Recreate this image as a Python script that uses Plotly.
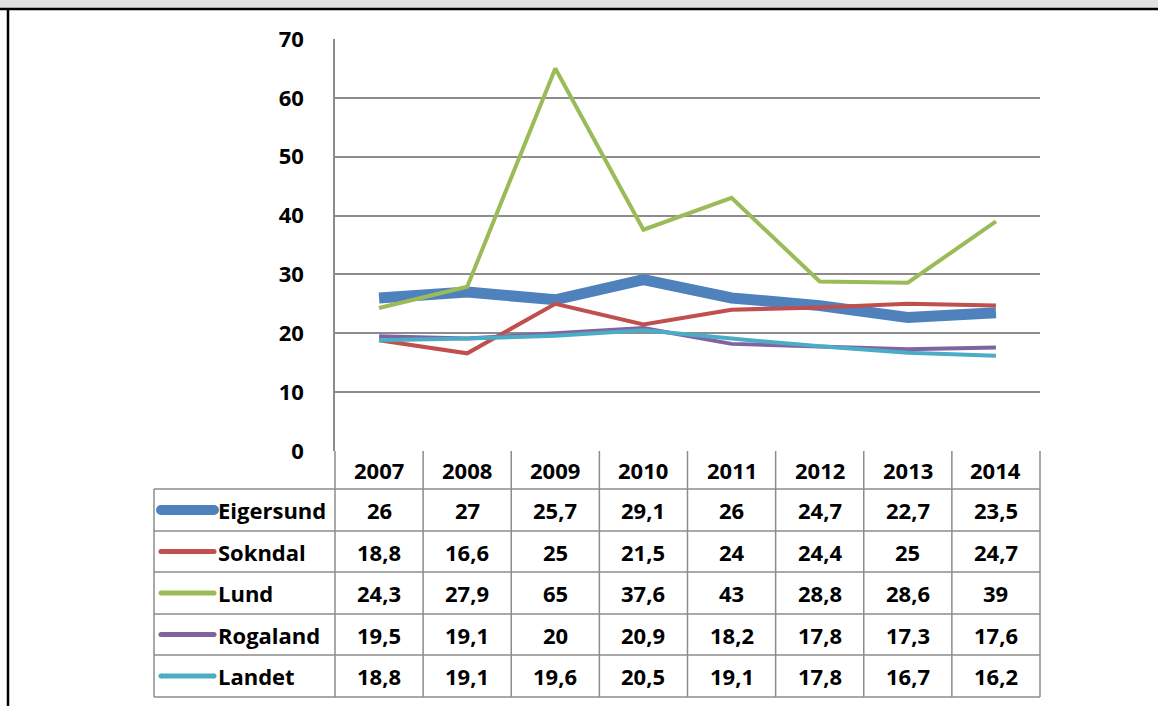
import plotly.graph_objects as go

years = ["2007", "2008", "2009", "2010", "2011", "2012", "2013", "2014"]
series_names = ["Eigersund", "Sokndal", "Lund", "Rogaland", "Landet"]
eigersund = [26, 27, 25.7, 29.1, 26, 24.7, 22.7, 23.5]
sokndal = [18.8, 16.6, 25, 21.5, 24, 24.4, 25, 24.7]
lund = [24.3, 27.9, 65, 37.6, 43, 28.8, 28.6, 39]
rogaland = [19.5, 19.1, 20, 20.9, 18.2, 17.8, 17.3, 17.6]
landet = [18.8, 19.1, 19.6, 20.5, 19.1, 17.8, 16.7, 16.2]
y_ticks = [0, 10, 20, 30, 40, 50, 60, 70]

series_values = [eigersund, sokndal, lund, rogaland, landet]
colors = ["#4F81BD", "#C0504D", "#9BBB59", "#8064A2", "#4BACC6"]
widths = [11, 4, 4, 4, 4]
key_widths = [10, 5, 5, 5, 5]

W, H = 1158, 706
FONT = "Open Sans"
GRID = "#8c8c8c"


def px(x):
    return x / W


def py(y):
    return 1 - y / H


def fmt(v):
    s = ("%g" % v)
    return s.replace(".", ",")


plot_left, plot_right = 335, 1040
plot_top, plot_bottom = 39, 451
header_bottom = 489
row_edges = [489, 531, 572, 614, 655, 697]
label_left = 154

fig = go.Figure()
idx = list(range(len(years)))
for name, vals, c, w in zip(series_names, series_values, colors, widths):
    fig.add_trace(go.Scatter(x=idx, y=vals, mode="lines", name=name,
                             line=dict(color=c, width=w), showlegend=False,
                             hoverinfo="skip"))

shapes = []
annotations = []
# top band
shapes.append(dict(type="rect", xref="paper", yref="paper", x0=0, x1=1, y0=py(0), y1=py(8),
                   fillcolor="#e0e0e0", line=dict(width=0), layer="below"))
shapes.append(dict(type="line", xref="paper", yref="paper", x0=0, x1=1, y0=py(9), y1=py(9),
                   line=dict(color="black", width=2.5)))
shapes.append(dict(type="line", xref="paper", yref="paper", x0=px(8), x1=px(8), y0=py(9), y1=0,
                   line=dict(color="black", width=2.5)))

# table grid
line_style = dict(color=GRID, width=1.5)
for i in range(len(years) + 1):
    xb = plot_left + (plot_right - plot_left) * i / len(years)
    shapes.append(dict(type="line", xref="paper", yref="paper", x0=px(xb), x1=px(xb),
                       y0=py(plot_bottom), y1=py(row_edges[-1]), line=line_style))
shapes.append(dict(type="line", xref="paper", yref="paper", x0=px(label_left), x1=px(label_left),
                   y0=py(row_edges[0]), y1=py(row_edges[-1]), line=line_style))
for ye in row_edges:
    shapes.append(dict(type="line", xref="paper", yref="paper", x0=px(label_left), x1=px(plot_right),
                       y0=py(ye), y1=py(ye), line=line_style))

txt_font = dict(family=FONT, size=22, color="black", weight="bold")
for i, yr in enumerate(years):
    annotations.append(dict(x=i, y=py((plot_bottom + header_bottom) / 2), xref="x", yref="paper",
                            text=yr, showarrow=False, font=txt_font, xanchor="center", yanchor="middle"))
for r, (name, vals, c, kw) in enumerate(zip(series_names, series_values, colors, key_widths)):
    yc = (row_edges[r] + row_edges[r + 1]) / 2
    for i, v in enumerate(vals):
        annotations.append(dict(x=i, y=py(yc), xref="x", yref="paper", text=fmt(v), showarrow=False,
                                font=txt_font, xanchor="center", yanchor="middle"))
    annotations.append(dict(x=px(216), y=py(yc), xref="paper", yref="paper", text=name, showarrow=False,
                            font=txt_font, xanchor="left", yanchor="middle"))
    x0k, x1k = 161, 214
    shapes.append(dict(type="line", xref="paper", yref="paper", x0=px(x0k), x1=px(x1k), y0=py(yc), y1=py(yc),
                       line=dict(color=c, width=kw)))
    for xe in (x0k, x1k):
        shapes.append(dict(type="circle", xref="paper", yref="paper", xsizemode="pixel", ysizemode="pixel",
                           xanchor=px(xe), yanchor=py(yc), x0=-kw / 2, x1=kw / 2, y0=-kw / 2, y1=kw / 2,
                           fillcolor=c, line=dict(width=0)))

fig.update_layout(
    width=W, height=H,
    margin=dict(l=0, r=0, t=0, b=0, pad=0, autoexpand=False),
    paper_bgcolor="white", plot_bgcolor="white",
    shapes=shapes, annotations=annotations,
    xaxis=dict(domain=[px(plot_left), px(plot_right)], range=[-0.5, len(years) - 0.5], automargin=False,
               showticklabels=False, showgrid=False, zeroline=False, showline=False, fixedrange=True),
    yaxis=dict(domain=[py(plot_bottom), py(plot_top)], range=[0, 70], tickvals=y_ticks, automargin=False,
               showgrid=True, gridcolor=GRID, gridwidth=1.5, zeroline=False,
               showline=True, linecolor=GRID, linewidth=1.5, fixedrange=True,
               tickfont=dict(family=FONT, size=22, color="black", weight="bold"),
               ticks="outside", ticklen=0, ticklabelstandoff=25),
    font=dict(family=FONT),
)

fig.write_html("out.html", config={"displayModeBar": False},
               post_script="document.body.style.margin='0';document.body.style.padding='0';"
                           "document.body.style.overflow='hidden';")
